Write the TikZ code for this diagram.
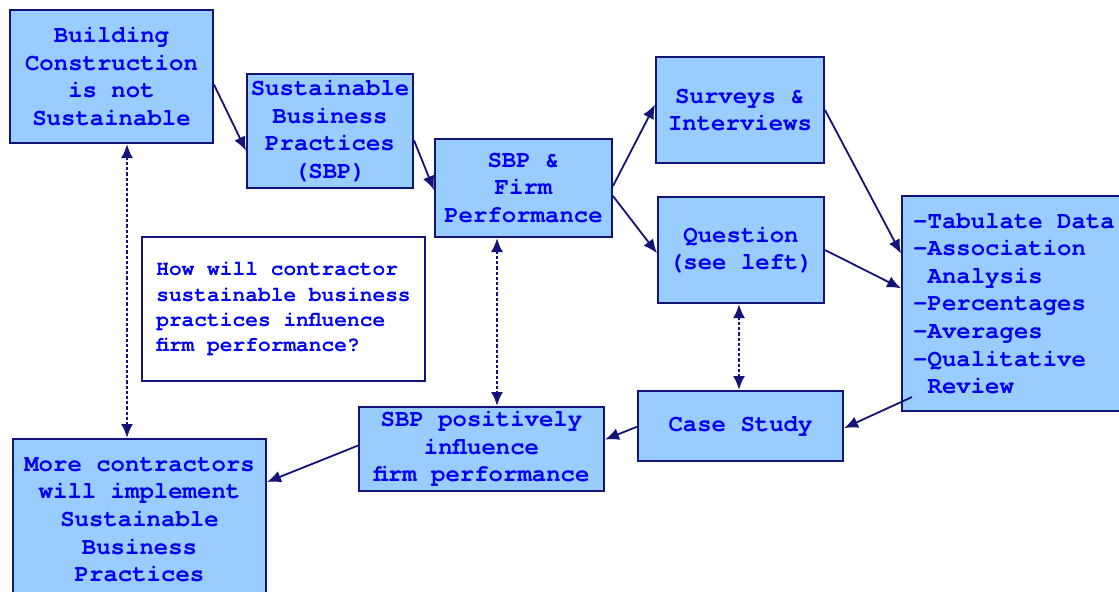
\documentclass[tikz,border=0pt]{standalone}
\usepackage{fontspec}
\newfontfamily\cour{TeX Gyre Cursor}
\usetikzlibrary{arrows.meta,calc}
\definecolor{boxfill}{RGB}{153,204,255}
\definecolor{navy}{RGB}{20,20,120}
\definecolor{txtblue}{RGB}{0,0,240}
\begin{document}
\begin{tikzpicture}[x=0.5pt,y=-0.5pt,
  box/.style={draw=navy,line width=1pt,fill=boxfill,inner sep=0pt,align=center,
    text=txtblue,font=\cour\bfseries\fontsize{12}{13.8}\selectfont},
  qbox/.style={draw=navy,line width=1pt,fill=white,inner sep=0pt,align=left,
    text=txtblue,font=\cour\bfseries\fontsize{10.6}{12.6}\selectfont},
  wh/.style n args={2}{minimum width=#1*0.5pt,minimum height=#2*0.5pt},
  conn/.style={draw=navy,line width=0.9pt,-{Latex[length=7pt,width=6pt]}},
  dconn/.style={draw=navy,line width=1.2pt,dash pattern=on 1.6pt off 1pt,
    {Latex[length=7pt,width=6pt]}-{Latex[length=7pt,width=6pt]}}]
\useasboundingbox (0,0) rectangle (1119,591);
\fill[white] (0,0) rectangle (1119,591);
\begin{scope}
\clip (0,0) rectangle (1119,591);
\node[box,wh={203}{133}] (build) at (111.5,76.5) {Building\\Construction\\is not\\Sustainable};
\node[box,wh={166}{114}] (sbp) at (330,131) {Sustainable\\Business\\Practices\\(SBP)};
\node[box,wh={177}{98}] (firm) at (523.5,188) {SBP \&\\Firm\\Performance};
\node[box,wh={168}{106}] (surv) at (740,110) {Surveys \&\\Interviews};
\node[box,wh={166}{106}] (ques) at (741,250) {Question\\(see left)};
\node[box,align=left,wh={224}{215}] (tab) at (1014,303.5) {-Tabulate Data\\-Association\\\phantom{-}Analysis\\-Percentages\\-Averages\\-Qualitative\\\phantom{-}Review};
\node[box,wh={205}{70}] (case) at (740.5,426) {Case Study};
\node[box,wh={245}{84}] (pos) at (481.5,449) {SBP positively\\influence\\firm performance};
\node[box,wh={253}{161}] (more) at (139.5,519.5) {More contractors\\will implement\\Sustainable\\Business\\Practices};
\node[qbox,wh={283}{144}] (q) at (283.5,309) {How will contractor\\sustainable business\\practices influence\\firm performance?};
\end{scope}
\draw[conn] ($(build.north east)!0.56!(build.south east)$) -- ($(sbp.north west)!0.67!(sbp.south west)$);
\draw[conn] ($(sbp.north east)!0.58!(sbp.south east)$) -- ($(firm.north west)!0.52!(firm.south west)$);
\draw[conn] ($(firm.north east)!0.48!(firm.south east)$) -- ($(surv.north west)!0.45!(surv.south west)$);
\draw[conn] ($(firm.north east)!0.58!(firm.south east)$) -- ($(ques.north west)!0.53!(ques.south west)$);
\draw[conn] ($(surv.north east)!0.5!(surv.south east)$) -- ($(tab.north west)!0.27!(tab.south west)$);
\draw[conn] ($(ques.north east)!0.5!(ques.south east)$) -- ($(tab.north west)!0.43!(tab.south west)$);
\draw[conn] ($(tab.south west)+(11,-15)$) -- ($(case.north east)!0.53!(case.south east)$);
\draw[conn] ($(case.north west)!0.51!(case.south west)$) -- ($(pos.north east)!0.39!(pos.south east)$);
\draw[conn] ($(pos.north west)!0.46!(pos.south west)$) -- ($(more.north east)!0.27!(more.south east)$);
\coordinate (d1) at ($(build.south west)+(118,0)$);
\coordinate (d2) at ($(firm.south west)+(63,0)$);
\coordinate (d3) at ($(ques.south west)+(82,0)$);
\draw[dconn] (d1) -- (d1 |- more.north);
\draw[dconn] (d2) -- (d2 |- pos.north);
\draw[dconn] (d3) -- (d3 |- case.north);
\end{tikzpicture}
\end{document}
